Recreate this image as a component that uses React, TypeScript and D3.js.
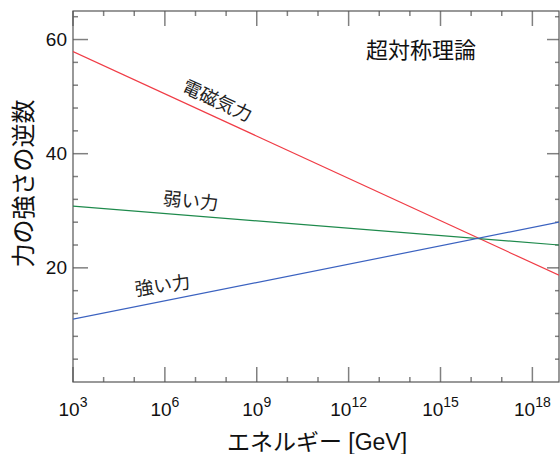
import React from 'react';
import * as d3 from 'd3';

// energy range shown (GeV), log scale
const energyRange = [1e3, 7.4e18];
// end points of each coupling line (inverse strength)
const lineEnergies = [1e3, 7.4e18];
const electromagnetic = [57.9, 18.7];
const weak = [30.8, 24.0];
const strong = [11.0, 28.0];

const xMajorExps = [3, 6, 9, 12, 15, 18];
const xMinorExps = d3.range(3, 19);
const yMajor = [20, 40, 60];
const yMinor = d3.range(4, 65, 4);

const series = [
  { name: '電磁気力', values: electromagnetic, color: '#f03c46' },
  { name: '弱い力', values: weak, color: '#1e8a4c' },
  { name: '強い力', values: strong, color: '#3b62c0' },
];

const W = 560;
const H = 454;
const margin = { left: 73, top: 11, right: 1, bottom: 72 };
const FONT = '"Liberation Sans", Arial, "Noto Sans CJK JP", sans-serif';

export default function App() {
  const x = d3.scaleLog().domain(energyRange).range([margin.left, W - margin.right]);
  const y = d3.scaleLinear().domain([0, 65]).range([H - margin.bottom, margin.top]);
  const x0 = margin.left, x1 = W - margin.right, y0 = H - margin.bottom, y1 = margin.top;

  const line = d3.line<number>()
    .x((_, i) => x(lineEnergies[i]))
    .y((d) => y(d));

  const tickColor = '#808080';

  // label positions follow the lines
  const at = (vals: number[], e: number) => {
    const t = (Math.log10(e) - Math.log10(lineEnergies[0])) /
      (Math.log10(lineEnergies[1]) - Math.log10(lineEnergies[0]));
    return vals[0] + t * (vals[1] - vals[0]);
  };
  const angle = (vals: number[]) => {
    const dx = x(lineEnergies[1]) - x(lineEnergies[0]);
    const dy = y(vals[1]) - y(vals[0]);
    return (Math.atan2(dy, dx) * 180) / Math.PI;
  };

  const labels = [
    { s: series[0], e: 10 ** 7.5, off: -9, rot: angle(electromagnetic) },
    { s: series[1], e: 10 ** 6.8, off: -8, rot: angle(weak) + 1 },
    { s: series[2], e: 10 ** 6.0, off: -9, rot: angle(strong) + 3 },
  ];

  return (
    <svg width={W} height={H} style={{ position: 'absolute', left: 0, top: 0 }} fontFamily={FONT}>
      <rect width={W} height={H} fill="#fff" />
      <defs>
        <clipPath id="plot">
          <rect x={x0} y={y1} width={x1 - x0} height={y0 - y1} />
        </clipPath>
      </defs>

      {/* x ticks, bottom and top, pointing inward */}
      {xMinorExps.map((p) => {
        const major = xMajorExps.includes(p);
        const len = major ? 15 : 5;
        const xx = x(10 ** p);
        return (
          <g key={'xt' + p} stroke={tickColor} strokeWidth={1.5}>
            <line x1={xx} x2={xx} y1={y0} y2={y0 - len} />
            <line x1={xx} x2={xx} y1={y1} y2={y1 + len} />
          </g>
        );
      })}
      {/* y ticks, left and right */}
      {yMinor.map((v) => {
        const major = yMajor.includes(v);
        const yy = y(v);
        return (
          <g key={'yt' + v} stroke={tickColor} strokeWidth={1.5}>
            <line x1={x0} x2={x0 + (major ? 15 : 5)} y1={yy} y2={yy} />
            <line x1={x1} x2={x1 - (major ? 12 : 4)} y1={yy} y2={yy} />
          </g>
        );
      })}

      {/* frame */}
      <rect x={x0} y={y1} width={x1 - x0} height={y0 - y1} fill="none" stroke="#555" strokeWidth={1.2} />

      {/* lines */}
      <g clipPath="url(#plot)">
        {series.map((s) => (
          <path key={s.name} d={line(s.values) ?? ''} fill="none" stroke={s.color} strokeWidth={1.2} />
        ))}
      </g>

      {/* line labels */}
      {labels.map(({ s, e, off, rot }) => (
        <text
          key={'l' + s.name}
          transform={`translate(${x(e)},${y(at(s.values, e))}) rotate(${rot}) translate(0,${off})`}
          textAnchor="middle"
          fontSize={18.5}
          fill="#222"
        >
          {s.name}
        </text>
      ))}

      {/* y tick labels */}
      {yMajor.map((v) => (
        <text key={'yl' + v} x={x0 - 6} y={y(v)} dy="0.35em" textAnchor="end" fontSize={19} fill="#111">
          {v}
        </text>
      ))}
      {/* x tick labels */}
      {xMajorExps.map((p) => (
        <text key={'xl' + p} x={x(10 ** p)} y={y0 + 34} textAnchor="middle" fontSize={19} fill="#111">
          10<tspan dy={-9} fontSize={14}>{p}</tspan>
        </text>
      ))}

      {/* axis titles */}
      <text x={317} y={H - 4} textAnchor="middle" fontSize={23} fill="#111">
        エネルギー [GeV]
      </text>
      <text transform={`translate(32,${(y0 + y1) / 2 - 13}) rotate(-90)`} textAnchor="middle" fontSize={24} fill="#111">
        力の強さの逆数
      </text>
      <text x={421} y={58} textAnchor="middle" fontSize={22} fill="#111">
        超対称理論
      </text>
    </svg>
  );
}
